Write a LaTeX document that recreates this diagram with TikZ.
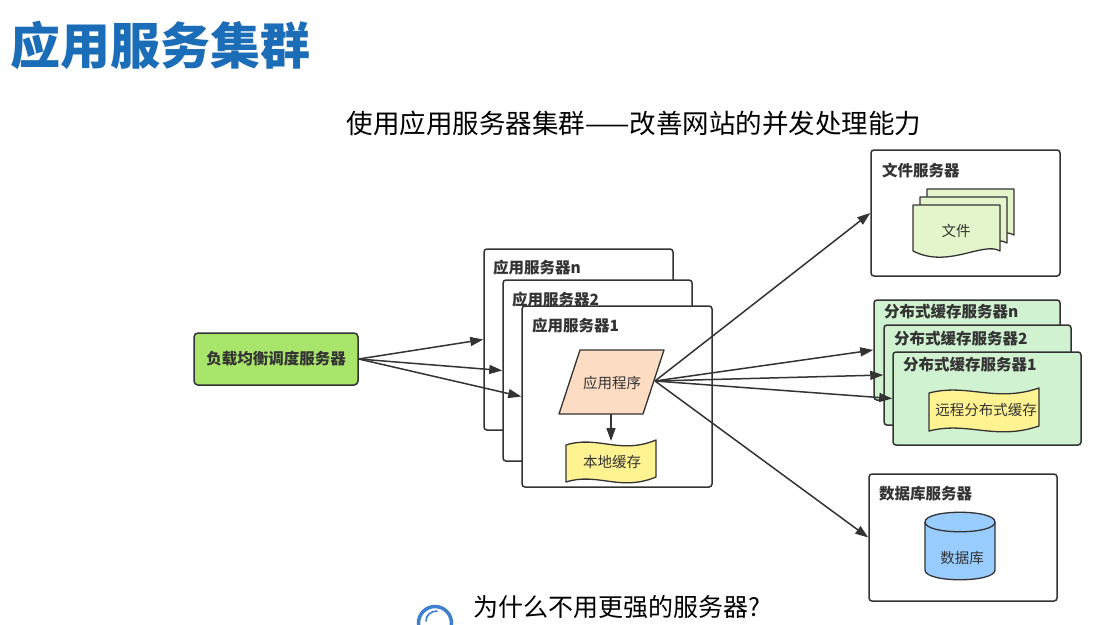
\documentclass[tikz,border=0pt]{standalone}
\usepackage{fontspec}
\usetikzlibrary{arrows.meta}
\newfontfamily\cjk{Noto Sans CJK SC}
\definecolor{ln}{HTML}{333333}
\definecolor{lbgreen}{HTML}{A9E46B}
\definecolor{peach}{HTML}{FCDDC4}
\definecolor{tapey}{HTML}{FFF291}
\definecolor{docg}{HTML}{E4F5CB}
\definecolor{cacheg}{HTML}{D0F2D0}
\definecolor{dbblue}{HTML}{99CCFF}
\definecolor{titleblue}{HTML}{1A6DB6}
\definecolor{ringblue}{HTML}{3F7FD0}
\begin{document}
\begin{tikzpicture}[x=1pt,y=-1pt,
  box/.style={draw=ln, line width=1.5pt, rounded corners=3pt, fill=white, inner sep=0pt},
  lbl/.style={anchor=west, inner sep=0pt, font=\cjk\bfseries\fontsize{15.5}{17}\selectfont, text=ln},
  txt/.style={inner sep=0pt, font=\cjk\fontsize{14.5}{16}\selectfont, text=ln},
  arr/.style={draw=ln, line width=1.5pt, -{Triangle[length=13pt,width=9pt]}},
  shp/.style={draw=ln, line width=1.3pt, line join=round}
]
\useasboundingbox (0,0) rectangle (1094,624);
\clip (0,0) rectangle (1094,624);

% titles
\node[anchor=west, inner sep=0pt, font=\cjk\bfseries\fontsize{50}{54}\selectfont, text=titleblue] (title) at (10,45) {应用服务集群};
\node[inner sep=0pt, font=\cjk\fontsize{26.5}{30}\selectfont, text=black] (sub) at (634,123) {使用应用服务器集群——改善网站的并发处理能力};

% load balancer
\node[box, fill=lbgreen, minimum width=164pt, minimum height=52pt, rounded corners=4pt,
      font=\cjk\bfseries\fontsize{15.5}{17}\selectfont, text=ln] (lb) at (276,359) {负载均衡调度服务器};

% app servers
\node[box, minimum width=189pt, minimum height=181pt] (appn) at (578.5,339.5) {};
\node[lbl] (lappn) at (493,268) {应用服务器n};
\node[box, minimum width=189pt, minimum height=181pt] (app2) at (597.5,370.5) {};
\node[lbl] (lapp2) at (512,300) {应用服务器2};
\node[box, minimum width=190pt, minimum height=181pt] (app1) at (617,396.5) {};
\node[lbl] (lapp1) at (532,326) {应用服务器1};

% application program (parallelogram)
\draw[shp, fill=peach] (580,350) -- (664,350) -- (643,414) -- (559,414) -- cycle;
\node[txt] (prog) at (612,383) {应用程序};
\coordinate (progR) at (655,381);
\coordinate (progB) at (611,414);

% local cache (tape)
\begin{scope}[shift={(566,444)}]
\draw[shp, fill=tapey] (0,1) .. controls (31.5,-9) and (54,11) .. (90,-4) -- (90,33) .. controls (54,48) and (31.5,28) .. (0,38) -- cycle;
\end{scope}
\node[txt] (local) at (612,462) {本地缓存};
\coordinate (localT) at (611,441);

% file server
\node[box, minimum width=189pt, minimum height=126pt] (fs) at (965.5,213) {};
\node[lbl] (lfs) at (882,171) {文件服务器};
\foreach \dx/\dy in {14/-16, 7/-8, 0/0}{
  \begin{scope}[shift={(913+\dx,205+\dy)}]
  \draw[shp, fill=docg] (0,0) -- (87,0) -- (87,46) .. controls (70,36) and (35,64) .. (0,46) -- cycle;
  \end{scope}
}
\node[txt] (file) at (956,231) {文件};

% cache servers
\node[box, fill=cacheg, minimum width=186pt, minimum height=100pt] (cn) at (967,350) {};
\node[lbl] (lcn) at (884,312) {分布式缓存服务器n};
\node[box, fill=cacheg, minimum width=187pt, minimum height=100pt] (c2) at (977.5,375) {};
\node[lbl] (lc2) at (894,339) {分布式缓存服务器2};
\node[box, fill=cacheg, minimum width=188pt, minimum height=93pt] (c1) at (987,398.5) {};
\node[lbl] (lc1) at (903,365) {分布式缓存服务器1};
\begin{scope}[shift={(929,392)}]
\draw[shp, fill=tapey] (0,1) .. controls (38.5,-9) and (66,11) .. (110,-4) -- (110,34) .. controls (66,49) and (38.5,29) .. (0,39) -- cycle;
\end{scope}
\node[txt] (remote) at (986,410) {远程分布式缓存};

% database server
\node[box, minimum width=188pt, minimum height=127pt] (dbs) at (963,537.5) {};
\node[lbl] (ldbs) at (879,494) {数据库服务器};
\draw[shp, fill=dbblue] (925,522) -- (925,570) .. controls (925,583) and (995,583) .. (995,570) -- (995,522) .. controls (995,509) and (925,509) .. (925,522) -- cycle;
\draw[shp] (925,522) .. controls (925,535) and (995,535) .. (995,522);
\node[txt] (db) at (962,558) {数据库};

% connectors
\draw[arr] (lb.east) -- (appn.west);
\draw[arr] (lb.east) -- (app2.west);
\draw[arr] (lb.east) -- (app1.west);
\draw[arr] (progB) -- (localT);
\draw[arr] (progR) -- (fs.west);
\draw[arr] (progR) -- (cn.west);
\draw[arr] (progR) -- (c2.west);
\draw[arr] (progR) -- (c1.west);
\draw[arr] (progR) -- (dbs.west);

% bottom question
\draw[ringblue, line width=3.5pt] (435,623) circle[radius=16.5];
\draw[ringblue, line width=1.6pt, line cap=round] (426,621) .. controls (426,615) and (431,611) .. (437,611);
\node[anchor=west, inner sep=0pt, font=\cjk\fontsize{25}{28}\selectfont, text=black] (q) at (473,607) {为什么不用更强的服务器?};
\end{tikzpicture}
\end{document}
